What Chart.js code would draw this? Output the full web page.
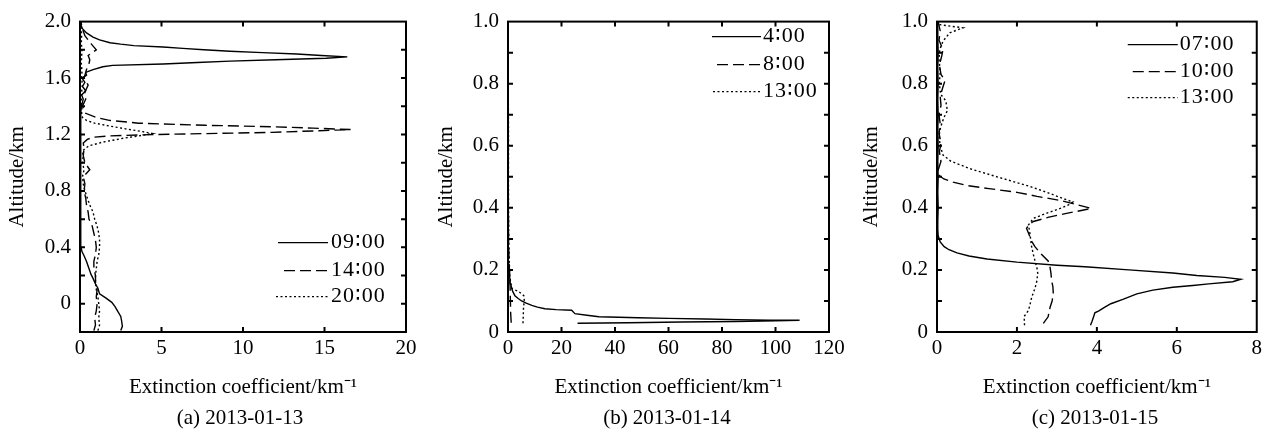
<!DOCTYPE html>
<html lang="en">
<head>
<meta charset="UTF-8">
<title>Extinction coefficient profiles</title>
<script src="https://cdn.jsdelivr.net/npm/chart.js"></script>
<style>
  body { margin: 0; background: #fff; width: 1266px; height: 430px; overflow: hidden; position: relative; }
  canvas { position: absolute; top: 0; }
  .cap { position: absolute; top: 405px; font: 21px "Liberation Serif", "Times New Roman", serif; color: #000; transform: translateX(-50%); white-space: nowrap; }
</style>
</head>
<body>
<canvas id="chart-a" width="425" height="430" style="left:0px"></canvas>
<canvas id="chart-b" width="425" height="430" style="left:425px"></canvas>
<canvas id="chart-c" width="421" height="430" style="left:845px"></canvas>
<div class="cap" style="left:240px">(a) 2013-01-13</div>
<div class="cap" style="left:667px">(b) 2013-01-14</div>
<div class="cap" style="left:1095px">(c) 2013-01-15</div>

<script>
// (a) 2013-01-13
const altA09 = [-0.19,-0.16,-0.12,-0.09,-0.05,-0.02,0.01,0.04,0.07,0.11,0.14,0.18,0.21,0.25,0.30,0.34,0.37,0.41,0.45,0.50,0.55,0.60,0.65,0.70,0.75,0.80,0.85,0.90,0.95,1.00,1.05,1.10,1.15,1.20,1.25,1.30,1.35,1.40,1.45,1.48,1.51,1.54,1.57,1.60,1.62,1.64,1.66,1.68,1.69,1.70,1.71,1.72,1.73,1.74,1.75,1.76,1.77,1.78,1.79,1.80,1.81,1.82,1.83,1.84,1.85,1.87,1.89,1.92,1.95,1.98,2.00];
const extA09 = [2.5,2.6,2.55,2.5,2.3,2.15,1.95,1.6,1.2,1.1,0.95,0.8,0.67,0.55,0.4,0.25,0.12,0.05,0.04,0.06,0.03,0.05,0.04,0.06,0.03,0.05,0.04,0.06,0.05,0.03,0.06,0.04,0.05,0.03,0.06,0.05,0.04,0.08,0.2,0.1,0.35,0.15,0.3,0.12,0.4,0.35,0.8,1.4,2.0,5.1,7.2,9.2,12.0,15.1,16.4,14.8,13.3,11.2,9.2,7.6,6.3,5.1,3.3,2.5,1.84,1.2,0.8,0.4,0.15,0.05,0.02];
const altA14 = [-0.19,-0.15,-0.10,-0.05,0.00,0.05,0.10,0.15,0.20,0.25,0.30,0.35,0.40,0.45,0.50,0.55,0.60,0.65,0.70,0.75,0.80,0.85,0.90,0.95,1.00,1.05,1.10,1.14,1.165,1.18,1.19,1.20,1.206,1.215,1.225,1.235,1.245,1.255,1.265,1.28,1.30,1.32,1.35,1.40,1.45,1.50,1.55,1.60,1.66,1.70,1.73,1.76,1.80,1.84,1.90,1.95,2.00];
const extA14 = [0.85,0.95,0.9,1.0,1.05,1.0,1.05,0.95,0.95,0.85,0.85,0.95,1.0,0.95,0.85,0.75,0.55,0.5,0.4,0.35,0.25,0.3,0.2,0.6,0.3,0.2,0.25,0.2,0.45,0.8,1.8,4.7,7.6,11.8,14.3,16.6,14.3,11.8,7.7,3.6,1.8,1.0,0.35,0.15,0.35,0.3,0.5,0.25,0.4,0.55,0.6,0.5,1.0,0.7,0.3,0.15,0.05];
const altA20 = [-0.19,-0.15,-0.10,-0.05,0.00,0.05,0.10,0.15,0.20,0.25,0.30,0.35,0.40,0.45,0.50,0.55,0.60,0.65,0.70,0.75,0.80,0.85,0.90,0.95,1.00,1.05,1.08,1.10,1.12,1.146,1.176,1.195,1.206,1.22,1.24,1.26,1.28,1.30,1.32,1.35,1.40,1.45,1.50,1.55,1.60,1.65,1.70,1.75,1.80,1.85,1.90,1.95,2.00];
const extA20 = [1.1,1.2,1.15,1.2,1.15,1.1,1.0,0.95,0.95,1.0,1.05,1.15,1.2,1.2,1.15,1.05,0.9,0.8,0.6,0.45,0.3,0.2,0.15,0.25,0.15,0.2,0.15,0.3,0.57,1.4,2.8,3.9,4.46,3.85,2.8,1.8,0.9,0.4,0.15,0.1,0.12,0.08,0.1,0.15,0.1,0.12,0.08,0.1,0.12,0.08,0.1,0.08,0.05];

// (b) 2013-01-14
const altB04 = [0.028,0.030,0.032,0.034,0.036,0.038,0.038,0.040,0.042,0.044,0.046,0.049,0.054,0.059,0.064,0.070,0.072,0.075,0.080,0.086,0.093,0.100,0.108,0.117,0.130,0.140,0.155,0.165,0.180,0.200,0.220];
const extB04 = [26,45,65,85,100,109,98,85,73.6,60,48.7,34,29.5,25,24.5,23.8,18,13.8,11,8.9,6.8,5.1,3.8,2.6,1.8,1.4,1.0,0.75,0.6,0.45,0.3];
const altB08 = [0.03,0.06,0.10,0.14,0.18,0.22,0.30,0.40,0.50,0.60,0.70,0.80,0.90,1.00];
const extB08 = [1.2,1.0,0.9,0.8,0.7,0.4,0.2,0.15,0.1,0.12,0.1,0.08,0.1,0.05];
const altB13 = [0.028,0.05,0.08,0.10,0.117,0.131,0.139,0.15,0.165,0.19,0.22,0.30,0.40,0.50,0.60,0.70,0.80,0.90,1.00];
const extB13 = [5.6,5.7,5.8,6.1,5.9,3.9,1.6,1.2,0.9,0.6,0.5,0.3,0.2,0.15,0.2,0.15,0.1,0.12,0.1];

// (c) 2013-01-15
const altC07 = [0.022,0.035,0.05,0.062,0.068,0.08,0.091,0.105,0.123,0.135,0.144,0.150,0.155,0.162,0.170,0.176,0.182,0.190,0.200,0.210,0.215,0.225,0.235,0.245,0.255,0.265,0.275,0.29,0.31,0.33,0.36,0.40,0.45,0.50,0.55,0.60,0.65,0.70,0.75,0.80,0.85,0.90,0.95,1.00];
const extC07 = [3.84,3.88,3.92,3.95,4.05,4.2,4.35,4.65,5.0,5.4,5.9,6.4,6.8,7.4,7.6,7.2,6.5,5.9,4.8,3.7,3.0,2.0,1.25,0.8,0.5,0.3,0.18,0.08,0.03,0.02,0.02,0.03,0.02,0.03,0.02,0.03,0.02,0.03,0.02,0.03,0.02,0.03,0.02,0.02];
const altC10 = [0.028,0.049,0.08,0.10,0.123,0.145,0.165,0.19,0.207,0.229,0.255,0.275,0.292,0.315,0.334,0.345,0.356,0.37,0.382,0.398,0.41,0.424,0.437,0.45,0.462,0.472,0.483,0.493,0.505,0.514,0.53,0.55,0.58,0.61,0.64,0.67,0.70,0.73,0.76,0.79,0.81,0.83,0.86,0.89,0.91,0.94,0.97,1.0];
const extC10 = [2.66,2.78,2.83,2.88,2.91,2.9,2.87,2.85,2.83,2.78,2.58,2.45,2.37,2.3,2.24,2.3,2.41,2.8,3.24,3.86,3.5,3.08,2.5,2.0,1.3,0.75,0.4,0.17,0.05,0.01,0.05,0.1,0.06,0.1,0.05,0.08,0.05,0.1,0.08,0.15,0.2,0.1,0.06,0.12,0.15,0.05,0.08,0.03];
const altC13 = [0.022,0.05,0.07,0.09,0.112,0.14,0.165,0.19,0.207,0.23,0.25,0.28,0.313,0.345,0.366,0.383,0.398,0.41,0.419,0.43,0.45,0.47,0.50,0.525,0.55,0.57,0.60,0.63,0.66,0.69,0.713,0.745,0.766,0.80,0.84,0.88,0.91,0.937,0.964,0.98,0.99,1.0];
const extC13 = [2.19,2.18,2.29,2.33,2.37,2.45,2.5,2.52,2.5,2.45,2.41,2.36,2.33,2.29,2.41,2.75,3.08,3.3,3.4,3.15,2.75,2.3,1.5,0.85,0.35,0.15,0.08,0.05,0.09,0.17,0.26,0.22,0.09,0.06,0.08,0.05,0.07,0.15,0.32,0.65,0.07,0.03];

const labelsA = ['09∶00', '14∶00', '20∶00'];
const labelsB = ['4∶00', '8∶00', '13∶00'];
const labelsC = ['07∶00', '10∶00', '13∶00'];

const FONT = '"Liberation Serif", "Times New Roman", serif';
const LEGEND_FONT = '"Liberation Serif", "DejaVu Sans", serif';
const styles = [
    { borderDash: [] },
    { borderDash: [11, 5] },
    { borderDash: [2, 2.5] }
];

function pts(ext, alt) {
    return ext.map((v, i) => ({ x: v, y: alt[i] }));
}

// box frame + inward tick marks on all four sides
const frameTicks = {
    id: 'frameTicks',
    afterDatasetsDraw(chart) {
        const { ctx, chartArea: a, scales: { x, y } } = chart;
        ctx.save();
        ctx.strokeStyle = '#000';
        ctx.lineWidth = 2;
        ctx.strokeRect(a.left, a.top, a.right - a.left, a.bottom - a.top);
        ctx.beginPath();
        x.ticks.forEach(t => {
            if (t.value <= x.min || t.value >= x.max) return;
            const px = x.getPixelForValue(t.value);
            ctx.moveTo(px, a.bottom); ctx.lineTo(px, a.bottom - 5);
            ctx.moveTo(px, a.top); ctx.lineTo(px, a.top + 5);
        });
        y.ticks.forEach(t => {
            if (t.value <= y.min + 1e-9 || t.value >= y.max - 1e-9) return;
            const py = y.getPixelForValue(t.value);
            ctx.moveTo(a.left, py); ctx.lineTo(a.left + 5, py);
            ctx.moveTo(a.right, py); ctx.lineTo(a.right - 5, py);
        });
        ctx.stroke();
        ctx.restore();
    }
};

// legend drawn inside the plot area
const innerLegend = {
    id: 'innerLegend',
    afterDraw(chart, args, opts) {
        const { ctx, chartArea: a } = chart;
        ctx.save();
        ctx.font = '22px ' + LEGEND_FONT;
        ctx.letterSpacing = '1px';
        ctx.textBaseline = 'middle';
        ctx.textAlign = 'left';
        ctx.fillStyle = '#000';
        chart.data.datasets.forEach((ds, i) => {
            const yy = a.top + opts.rows[i];
            ctx.strokeStyle = '#000';
            ctx.lineWidth = 1.3;
            ctx.setLineDash(ds.borderDash || []);
            ctx.beginPath();
            ctx.moveTo(a.right - opts.lineStart[i], yy);
            ctx.lineTo(a.right - opts.lineEnd, yy);
            ctx.stroke();
            ctx.setLineDash([]);
            ctx.fillText(ds.label, a.right - opts.textStart, yy);
        });
        ctx.restore();
    }
};

function yTickLabel(every) {
    return v => {
        const k = Math.round(v * 10);
        if (k < 0 || k % every !== 0) return '';
        return k === 0 ? '0' : (k / 10).toFixed(1);
    };
}

function makeChart(id, cfg) {
    const tickFont = { family: FONT, size: 21 };
    new Chart(document.getElementById(id), {
        type: 'scatter',
        data: {
            datasets: cfg.series.map((s, i) => ({
                label: cfg.labels[i],
                data: pts(s[0], s[1]),
                showLine: true,
                borderColor: '#000',
                borderWidth: 1.4,
                borderDash: styles[i].borderDash,
                pointRadius: 0,
                tension: 0
            }))
        },
        options: {
            responsive: false,
            animation: false,
            layout: { padding: { top: 17, right: cfg.padRight, left: 0, bottom: 0 } },
            plugins: {
                legend: { display: false },
                tooltip: { enabled: false },
                innerLegend: cfg.legend
            },
            scales: {
                x: {
                    type: 'linear',
                    min: cfg.xMin, max: cfg.xMax,
                    ticks: { stepSize: cfg.xStep, padding: 4, color: '#000', font: tickFont, autoSkip: false, maxRotation: 0 },
                    grid: { display: false, drawTicks: false },
                    border: { display: false },
                    title: { display: true, text: 'Extinction coefficient/km⁻¹', color: '#000', font: tickFont, padding: { top: 0, bottom: 30 } },
                    afterFit(s) { s.height = 98; }
                },
                y: {
                    type: 'linear',
                    min: cfg.yMin, max: cfg.yMax,
                    ticks: { stepSize: cfg.yStep, padding: 9, color: '#000', font: tickFont, autoSkip: false, callback: cfg.yLabel },
                    grid: { display: false, drawTicks: false },
                    border: { display: false },
                    title: { display: true, text: 'Altitude/km', color: '#000', font: tickFont, padding: { top: cfg.yTitlePad, bottom: 0 } },
                    afterFit(s) { s.width = cfg.yWidth; }
                }
            }
        },
        plugins: [frameTicks, innerLegend]
    });
}

makeChart('chart-a', {
    series: [[extA09, altA09], [extA14, altA14], [extA20, altA20]],
    labels: labelsA,
    xMin: 0, xMax: 20, xStep: 5,
    yMin: -0.2, yMax: 2.0, yStep: 0.2, yLabel: yTickLabel(4),
    yWidth: 80, padRight: 19, yTitlePad: 5,
    legend: { lineStart: [128, 122, 130], lineEnd: 78, textStart: 75, rows: [221, 249, 275] }
});

makeChart('chart-b', {
    series: [[extB04, altB04], [extB08, altB08], [extB13, altB13]],
    labels: labelsB,
    xMin: 0, xMax: 120, xStep: 20,
    yMin: 0, yMax: 1.0, yStep: 0.1, yLabel: yTickLabel(2),
    yWidth: 83, padRight: 21, yTitlePad: 9,
    legend: { lineStart: [117, 112, 116], lineEnd: 68, textStart: 66, rows: [15, 43, 70] }
});

makeChart('chart-c', {
    series: [[extC07, altC07], [extC10, altC10], [extC13, altC13]],
    labels: labelsC,
    xMin: 0, xMax: 8, xStep: 2,
    yMin: 0, yMax: 1.0, yStep: 0.1, yLabel: yTickLabel(2),
    yWidth: 92, padRight: 7, yTitlePad: 14,
    legend: { lineStart: [129, 124, 129], lineEnd: 79, textStart: 77, rows: [23, 50, 76] }
});
</script>
</body>
</html>
